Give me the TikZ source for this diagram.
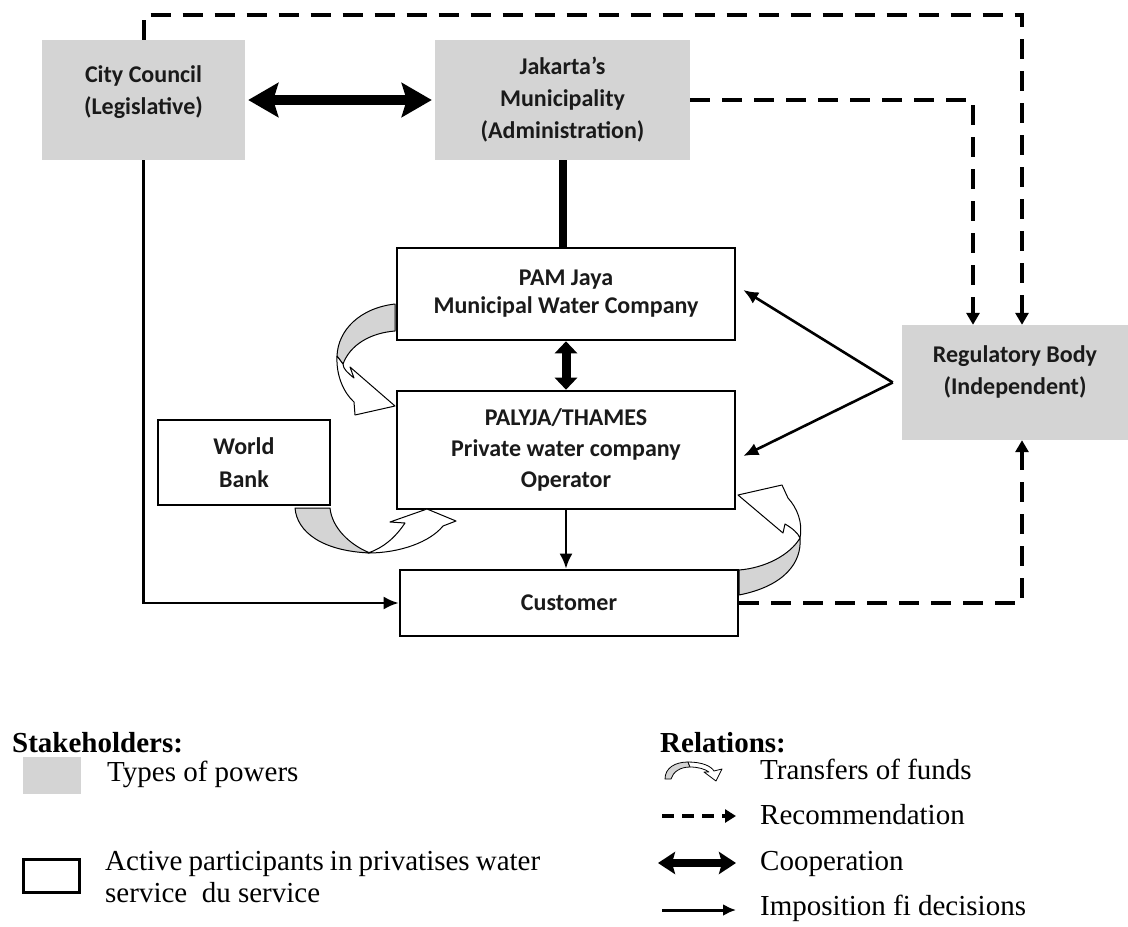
\documentclass[tikz,border=0pt]{standalone}
\usepackage{fontspec}
\setmainfont{Liberation Serif}
\newfontfamily\diagfont{Carlito}
\usetikzlibrary{arrows.meta}
\definecolor{powergray}{HTML}{D4D4D4}
\definecolor{inkc}{HTML}{1A1A1A}
\begin{document}
\begin{tikzpicture}[x=1pt,y=-1pt,
  dfont/.style={font=\diagfont\bfseries\fontsize{24}{32}\selectfont},
  power/.style={fill=powergray, inner sep=0pt, align=center, text=inkc, dfont},
  actor/.style={draw=black, line width=2.6pt, fill=white, inner sep=0pt, align=center, text=inkc, dfont},
  recdash/.style={line width=4pt, dash pattern=on 20pt off 12pt, -{Triangle[length=12pt,width=13pt]}},
  impose/.style={line width=2.6pt, -{Latex[length=15pt,width=13pt]}},
  coop/.style={line width=10pt, {Stealth[length=30pt,width=34pt,inset=5pt]}-{Stealth[length=30pt,width=34pt,inset=5pt]}},
  fundgray/.style={fill=powergray, draw=black, line width=1pt, line join=round},
  fundwhite/.style={fill=white, draw=black, line width=1pt, line join=round},
  legtext/.style={anchor=base west, inner sep=0pt, font=\fontsize{29}{32}\selectfont},
  leghead/.style={anchor=base west, inner sep=0pt, font=\bfseries\fontsize{29}{32}\selectfont}
]
\useasboundingbox (0,0) rectangle (1128,927);

% ---- stakeholder boxes
\node[power, minimum width=203pt, minimum height=120pt,
  label={[dfont, align=center, text=inkc, yshift=8pt]center:{City Council\\(Legislative)}}] (city) at (143.5,100) {};
\node[power, minimum width=255pt, minimum height=120pt] (jak) at (562.5,100) {Jakarta’s\\Municipality\\(Administration)};
\node[power, minimum width=226pt, minimum height=115pt,
  label={[dfont, align=center, text=inkc, yshift=11pt]center:{Regulatory Body\\(Independent)}}] (reg) at (1015,382.5) {};
\node[actor, minimum width=338pt, minimum height=92pt, font=\diagfont\bfseries\fontsize{24}{28}\selectfont] (pam) at (566,294) {PAM Jaya\\Municipal Water Company};
\node[actor, minimum width=338pt, minimum height=118pt, font=\diagfont\bfseries\fontsize{24}{31}\selectfont] (paly) at (566,450) {PALYJA/THAMES\\Private water company\\Operator};
\node[actor, minimum width=172pt, minimum height=85pt, font=\diagfont\bfseries\fontsize{24}{33}\selectfont] (wb) at (244,462.5) {World\\Bank};
\node[actor, minimum width=338pt, minimum height=66pt] (cust) at (569,603) {Customer};

% ---- helper coordinates
\coordinate (topleft) at ([yshift=25pt]city.north);
\coordinate (regA) at ([xshift=7pt]reg.north);
\coordinate (regB) at ([xshift=-42pt]reg.north);
\coordinate (regC) at ([xshift=7pt]reg.south);
\coordinate (rv) at ([xshift=-9pt]reg.west);
\coordinate (pamR) at ([xshift=7pt,yshift=4pt]pam.east);
\coordinate (palyR) at ([xshift=7pt,yshift=-6pt]paly.east);

% ---- recommendations (dashed)
\draw[recdash] (city.north) -- (topleft) -| (regA);
\draw[recdash] (jak.east) -| (regB);
\draw[recdash] (cust.east) -| (regC);

% ---- cooperation
\draw[coop] ([xshift=3pt]city.east) -- ([xshift=-3pt]jak.west);
\draw[line width=8pt] (jak.south) -- (jak.south |- pam.north);
\draw[line width=9pt, {Triangle[length=12pt,width=22pt]}-{Triangle[length=12pt,width=22pt]}] (pam.south) -- (paly.north);

% ---- impositions
\draw[impose] (city.south) |- (cust.west);
\draw[impose] (paly.south) -- (paly.south |- cust.north);
\draw[impose] (rv) -- (pamR);
\draw[impose] (rv) -- (palyR);

% ---- transfers of funds
% PAM Jaya -> PALYJA
\draw[fundgray] (395,304) .. controls (360,308) and (338,330) .. (337,356) -- (343,364) .. controls (350,345) and (370,333) .. (395,331) -- cycle;
\draw[fundwhite] (337,356) .. controls (336,376) and (344,393) .. (354,402) -- (355,415) -- (395,406) -- (350,367) -- (354,378) .. controls (348,373) and (343,369) .. (343,364) -- cycle;
% World Bank -> PALYJA
\draw[fundgray] (295,508) .. controls (297,532) and (322,551) .. (370,553) .. controls (350,545) and (332,528) .. (330,508) -- cycle;
\draw[fundwhite] (368,553) .. controls (400,553) and (430,542) .. (443,526) -- (456,521) -- (427,509) -- (390,522) -- (405,523) .. controls (395,538) and (383,548) .. (368,553) -- cycle;
% Customer -> PALYJA
\draw[fundgray] (739,570) .. controls (765,568) and (790,555) .. (800,538) .. controls (802,562) and (785,586) .. (739,595) -- cycle;
\draw[fundwhite] (800,538) .. controls (803,522) and (797,508) .. (788,498) -- (782,485) -- (738,495) -- (783,533) -- (785,524) .. controls (792,528) and (798,533) .. (800,538) -- cycle;

% ---- legend: stakeholders
\node[leghead] (lgS) at (12,752) {Stakeholders:};
\node[fill=powergray, minimum width=58pt, minimum height=37pt, inner sep=0pt] (lgG) at (52,775.5) {};
\node[legtext] (lgGt) at (107,781) {Types of powers};
\node[draw=black, line width=3pt, minimum width=56pt, minimum height=33pt, inner sep=0pt] (lgW) at (51,875.5) {};
\node[legtext, align=left] (lgWt) at (105,902) {\makebox[435pt][s]{Active participants in privatises water}\\service\ \ du service};

% ---- legend: relations
\node[leghead] (lgR) at (660,752) {Relations:};
\draw[fundgray, line width=0.8pt] (665,779) .. controls (665,768) and (675,762) .. (688,762) -- (690,767) .. controls (680,767) and (673,772) .. (671,779) -- cycle;
\draw[fundwhite, line width=0.8pt] (688,762) .. controls (702,762) and (711,766) .. (714,771) -- (722,769) -- (716,781) -- (704,772) -- (709,772) .. controls (705,769) and (698,767) .. (690,767) -- cycle;
\node[legtext] (lgFt) at (760,779) {Transfers of funds};
\coordinate (lgDa) at (662,816);
\coordinate (lgDb) at (736,816);
\draw[line width=4pt, dash pattern=on 12pt off 8pt, -{Triangle[length=11pt,width=13pt]}] (lgDa) -- (lgDb);
\node[legtext] (lgDt) at (760,824) {Recommendation};
\coordinate (lgCa) at (658,863);
\coordinate (lgCb) at (736,863);
\draw[line width=8pt, {Stealth[length=17pt,width=22pt,inset=3pt]}-{Stealth[length=17pt,width=22pt,inset=3pt]}] (lgCa) -- (lgCb);
\node[legtext] (lgCt) at (760,870) {Cooperation};
\coordinate (lgIa) at (662,910);
\coordinate (lgIb) at (736,910);
\draw[line width=3pt, -{Latex[length=13pt,width=12pt]}] (lgIa) -- (lgIb);
\node[legtext] (lgIt) at (760,915) {Imposition fi decisions};
\end{tikzpicture}
\end{document}
